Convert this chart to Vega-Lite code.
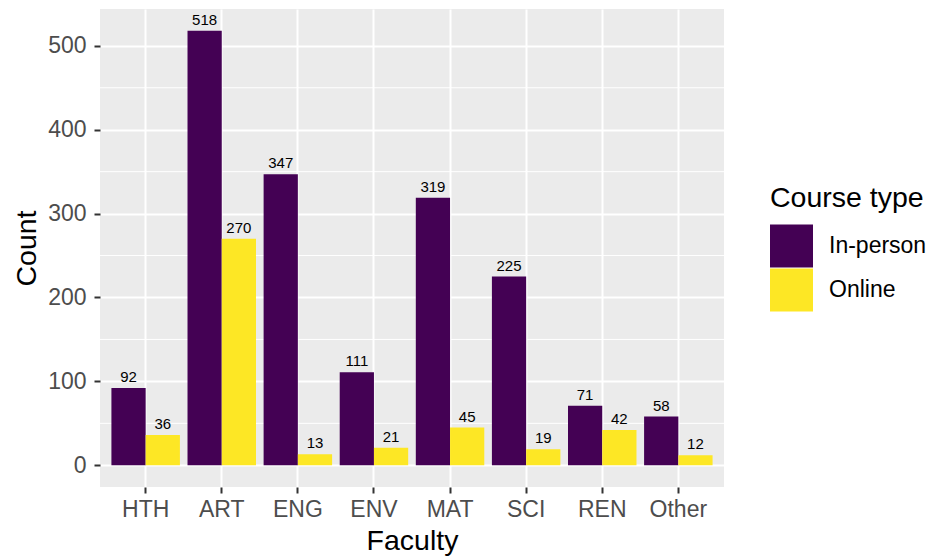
{
  "$schema": "https://vega.github.io/schema/vega-lite/v6.json",
  "autosize": "none",
  "width": 624,
  "height": 478,
  "padding": {"left": 100, "top": 9, "right": 206, "bottom": 71},
  "background": "white",
  "config": {
    "font": "Liberation Sans",
    "view": {"fill": "#EBEBEB", "stroke": null}
  },
  "data": {
    "values": [
      {"Faculty": "HTH", "Type": "In-person", "Count": 92},
      {"Faculty": "HTH", "Type": "Online", "Count": 36},
      {"Faculty": "ART", "Type": "In-person", "Count": 518},
      {"Faculty": "ART", "Type": "Online", "Count": 270},
      {"Faculty": "ENG", "Type": "In-person", "Count": 347},
      {"Faculty": "ENG", "Type": "Online", "Count": 13},
      {"Faculty": "ENV", "Type": "In-person", "Count": 111},
      {"Faculty": "ENV", "Type": "Online", "Count": 21},
      {"Faculty": "MAT", "Type": "In-person", "Count": 319},
      {"Faculty": "MAT", "Type": "Online", "Count": 45},
      {"Faculty": "SCI", "Type": "In-person", "Count": 225},
      {"Faculty": "SCI", "Type": "Online", "Count": 19},
      {"Faculty": "REN", "Type": "In-person", "Count": 71},
      {"Faculty": "REN", "Type": "Online", "Count": 42},
      {"Faculty": "Other", "Type": "In-person", "Count": 58},
      {"Faculty": "Other", "Type": "Online", "Count": 12}
    ]
  },
  "encoding": {
    "x": {
      "field": "Faculty", "type": "nominal",
      "sort": ["HTH", "ART", "ENG", "ENV", "MAT", "SCI", "REN", "Other"],
      "scale": {"paddingInner": 0.1, "paddingOuter": 0.15},
      "axis": {
        "title": "Faculty", "titleFontSize": 28.5, "titleFontWeight": "normal", "titleColor": "black",
        "titlePadding": 5,
        "labelFontSize": 23, "labelColor": "#4D4D4D", "labelAngle": 0, "labelPadding": 5,
        "tickColor": "#333333", "tickSize": 6, "tickWidth": 2,
        "domain": false, "grid": true, "gridColor": "white", "gridWidth": 2,
        "bandPosition": 0.5
      }
    },
    "xOffset": {"field": "Type", "type": "nominal", "scale": {"paddingInner": 0, "paddingOuter": 0}},
    "y": {
      "field": "Count", "type": "quantitative",
      "scale": {"domain": [-25.9, 543.9], "nice": false, "zero": false},
      "axis": {
        "title": "Count", "titleFontSize": 28.5, "titleFontWeight": "normal", "titleColor": "black",
        "titlePadding": 6,
        "values": [0, 100, 200, 300, 400, 500],
        "labelFontSize": 23, "labelColor": "#4D4D4D", "labelPadding": 8,
        "tickColor": "#333333", "tickSize": 6, "tickWidth": 2,
        "domain": false, "grid": true, "gridColor": "white", "gridWidth": 2
      }
    }
  },
  "layer": [
    {
      "mark": {"type": "rule", "color": "white", "strokeWidth": 1},
      "data": {"values": [{"m": 50}, {"m": 150}, {"m": 250}, {"m": 350}, {"m": 450}]},
      "encoding": {
        "x": null, "xOffset": null,
        "y": {"field": "m", "type": "quantitative"}
      }
    },
    {
      "mark": {"type": "bar"},
      "encoding": {
        "color": {
          "field": "Type", "type": "nominal",
          "scale": {"domain": ["In-person", "Online"], "range": ["#440154", "#FDE725"]},
          "legend": {
            "title": "Course type", "orient": "none", "legendX": 670, "legendY": 175,
            "titleFontSize": 28.5, "titleFontWeight": "normal", "titleColor": "black", "titlePadding": 12,
            "labelFontSize": 23, "labelColor": "black", "labelOffset": 16,
            "symbolType": "square", "symbolSize": 1849, "symbolStrokeWidth": 0,
            "symbolOpacity": 1, "rowPadding": 1
          }
        }
      }
    },
    {
      "mark": {"type": "text", "fontSize": 15, "color": "black", "baseline": "alphabetic", "dy": -6},
      "encoding": {"text": {"field": "Count", "type": "quantitative"}}
    }
  ]
}
